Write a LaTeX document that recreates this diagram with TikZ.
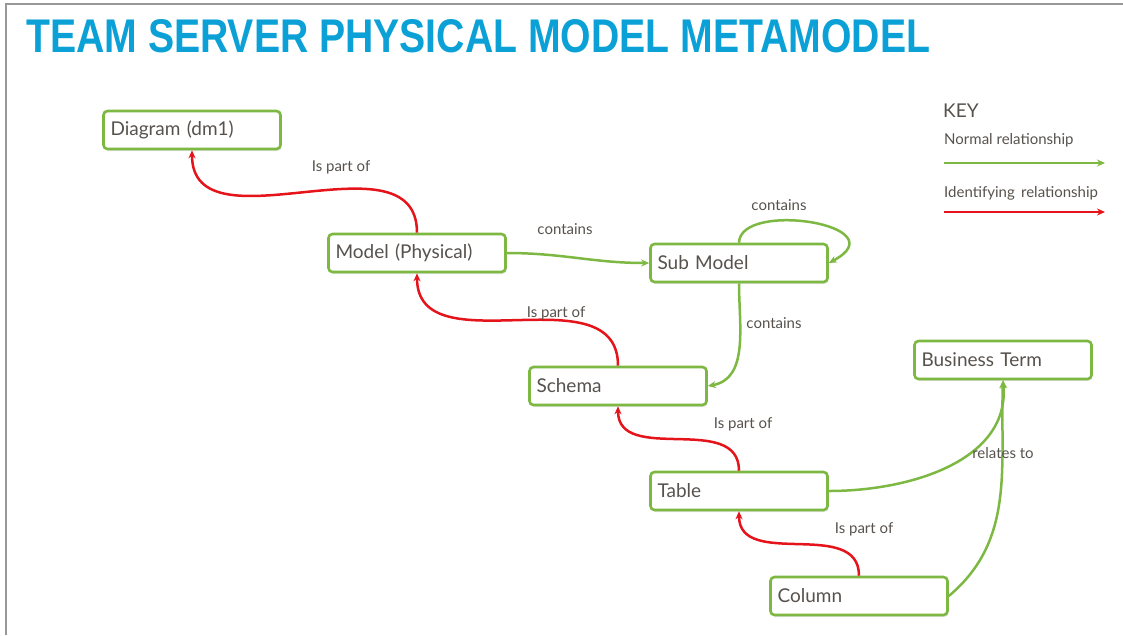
\documentclass[tikz,border=0pt]{standalone}
\usepackage{fontspec}
\setmainfont{Lato}
\usetikzlibrary{arrows.meta,shadows}

\definecolor{relgreen}{HTML}{7DB843}
\definecolor{relred}{HTML}{E5141B}
\definecolor{txtgray}{HTML}{57524D}
\definecolor{titleblue}{HTML}{0BA1D6}

\tikzset{
  entity/.style={draw=relgreen,line width=2.6pt,rounded corners=4pt,fill=white,
    drop shadow={opacity=0.2,shadow xshift=1pt,shadow yshift=-2pt},
    minimum width=177pt,minimum height=38pt,text width=163pt,align=left,
    inner xsep=7pt,text=txtgray,font=\fontsize{19}{21}\selectfont},
  lbl/.style={text=txtgray,font=\fontsize{15}{17}\selectfont,inner sep=1pt},
  normal/.style={draw=relgreen,line width=2.5pt,-{Stealth[length=8pt,width=7pt]}},
  identifying/.style={draw=relred,line width=2.5pt,-{Stealth[length=8pt,width=7pt]}}
}

\begin{document}
\begin{tikzpicture}[x=1pt,y=-1pt]
  \useasboundingbox (0,0) rectangle (1123,635);
  \draw[gray!80,line width=1.5pt] (6,635) -- (6,4) -- (1123,4);

  % title
  \node[anchor=south west,inner sep=0pt,text=titleblue] (title) at (26,53)
    {\resizebox{904pt}{33pt}{\fontspec{Liberation Sans}\bfseries TEAM SERVER PHYSICAL MODEL METAMODEL}};

  % entities
  \node[entity] (diagram) at (192,130) {Diagram (dm1)};
  \node[entity] (model) at (417,253) {Model (Physical)};
  \node[entity] (submodel) at (739,263) {Sub Model};
  \node[entity] (schema) at (618,386) {Schema};
  \node[entity] (term) at (1003,360) {Business Term};
  \node[entity] (table) at (739,491) {Table};
  \node[entity] (column) at (859,596) {Column};

  % identifying relationships
  \draw[identifying] (model.north) to[out=90,in=-90,looseness=1.1] (diagram.south);
  \draw[identifying] (schema.north) to[out=90,in=-90,looseness=1.1] (model.south);
  \draw[identifying] (table.north) to[out=90,in=-90,looseness=1.1] (schema.south);
  \draw[identifying] (column.north) to[out=90,in=-90,looseness=1.1] (table.south);

  % normal relationships
  \draw[normal] (model.east) to[out=0,in=180] (submodel.west);
  \draw[normal] (submodel.north) .. controls (740,200) and (900,225) .. (submodel.east);
  \draw[normal] (submodel.south) to[out=-90,in=10] (schema.east);
  \draw[normal] (table.east) to[out=0,in=-85] (term.south);
  \draw[normal] (column.east) to[out=40,in=-92] (term.south);

  % labels
  \node[lbl] (l1) at (341,167) {Is part of};
  \node[lbl] (l2) at (565,229) {contains};
  \node[lbl] (l3) at (779,205) {contains};
  \node[lbl] (l4) at (774,323) {contains};
  \node[lbl] (l5) at (556,313) {Is part of};
  \node[lbl] (l6) at (743,424) {Is part of};
  \node[lbl] (l7) at (1003,453) {relates to};
  \node[lbl] (l8) at (864,529) {Is part of};

  % key
  \node[anchor=west,text=txtgray,font=\fontsize{19}{21}\selectfont,inner sep=0pt] (key) at (943,111) {KEY};
  \node[lbl,anchor=west,inner sep=0pt] (knormal) at (944,140) {Normal relationship};
  \node[lbl,anchor=west,inner sep=0pt] (kident) at (944,193) {Identifying\, relationship};
  \coordinate (kn1) at (944,163);
  \coordinate (kn2) at (1105,163);
  \coordinate (ki1) at (944,212);
  \coordinate (ki2) at (1105,212);
  \draw[normal] (kn1) -- (kn2);
  \draw[identifying] (ki1) -- (ki2);
\end{tikzpicture}
\end{document}
